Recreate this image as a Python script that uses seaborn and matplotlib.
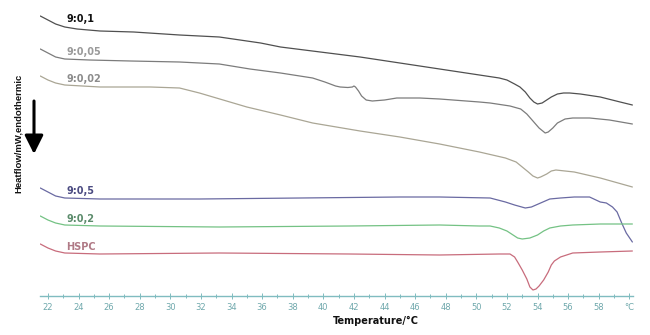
import numpy as np
import pandas as pd
import matplotlib
matplotlib.use("Agg")
import matplotlib.pyplot as plt
import seaborn as sns

# DSC thermograms (heat flow, arbitrary offset units, endothermic down)
t_901 = [21.5, 22.0, 22.5, 23.1, 23.9, 25.4, 27.6, 30.6, 33.2, 35.9, 37.2, 39.8, 42.4, 45.0,
         47.6, 50.2, 51.5, 52.0, 52.5, 52.85, 53.2, 53.5, 53.76, 54.0, 54.3, 54.6, 54.9,
         55.3, 55.7, 56.1, 56.8, 58.1, 59.4, 60.2]
hf_901 = [28.0, 27.6, 27.2, 26.9, 26.7, 26.5, 26.4, 26.1, 25.9, 25.3, 24.9, 24.4, 23.9, 23.3,
          22.7, 22.1, 21.8, 21.6, 21.2, 20.9, 20.4, 19.8, 19.4, 19.2, 19.3, 19.6, 19.9,
          20.2, 20.3, 20.3, 20.2, 19.9, 19.4, 19.1]

t_9005 = [21.5, 22.0, 22.5, 23.1, 24.7, 27.4, 30.6, 33.2, 35.2, 37.2, 39.3, 40.1, 40.8, 41.1,
          41.6, 41.9, 42.0, 42.1, 42.3, 42.5, 42.8, 43.2, 44.0, 44.8, 46.3, 47.6, 50.2, 50.9,
          52.2, 52.9, 53.3, 53.7, 54.1, 54.5, 54.7, 55.0, 55.3, 55.8, 56.3, 57.4, 58.7, 60.2]
hf_9005 = [24.7, 24.3, 23.9, 23.7, 23.6, 23.5, 23.4, 23.2, 22.7, 22.3, 21.8, 21.4, 21.0, 20.9,
           20.85, 20.9, 21.0, 20.9, 20.5, 20.0, 19.6, 19.5, 19.6, 19.8, 19.8, 19.7, 19.4, 19.3,
           19.0, 18.7, 18.2, 17.5, 16.8, 16.3, 16.4, 16.8, 17.3, 17.7, 17.8, 17.8, 17.6, 17.2]

t_9002 = [21.5, 22.0, 22.5, 23.1, 25.4, 28.7, 30.6, 31.9, 35.0, 37.2, 39.3, 42.4, 45.0, 47.6,
          50.2, 51.9, 52.6, 53.0, 53.4, 53.7, 54.0, 54.2, 54.6, 54.9, 55.2, 55.8, 56.4, 58.1,
          60.2]
hf_9002 = [22.0, 21.6, 21.3, 21.1, 20.9, 20.9, 20.8, 20.3, 18.9, 18.1, 17.3, 16.5, 15.9, 15.2,
           14.4, 13.8, 13.4, 12.9, 12.4, 12.0, 11.8, 11.9, 12.2, 12.5, 12.6, 12.5, 12.4, 11.8,
           10.9]

t_905 = [21.5, 22.0, 22.5, 23.1, 25.4, 31.9, 38.5, 45.0, 47.6, 50.9, 51.9, 52.5, 53.2, 53.6,
         54.2, 54.8, 55.5, 56.4, 57.4, 58.1, 58.5, 58.9, 59.2, 59.5, 59.8, 60.2]
hf_905 = [10.8, 10.4, 10.0, 9.8, 9.7, 9.7, 9.8, 9.9, 9.9, 9.8, 9.4, 9.1, 8.8, 8.9,
          9.3, 9.7, 9.8, 9.9, 9.9, 9.4, 9.3, 8.9, 8.4, 7.3, 6.3, 5.4]

t_902 = [21.5, 22.0, 22.5, 23.1, 25.4, 33.2, 41.7, 47.6, 50.2, 50.9, 51.5, 52.0, 52.4, 52.7,
         53.0, 53.5, 54.0, 54.4, 54.8, 55.5, 56.3, 58.1, 60.2]
hf_902 = [8.0, 7.6, 7.3, 7.1, 7.0, 6.9, 7.0, 7.1, 7.0, 7.0, 6.8, 6.5, 6.1, 5.8,
          5.7, 5.8, 6.1, 6.5, 6.8, 7.0, 7.1, 7.2, 7.2]

t_hspc = [21.5, 22.0, 22.5, 23.1, 25.4, 33.2, 41.7, 47.6, 51.5, 51.9, 52.2, 52.5, 52.7, 53.0,
          53.3, 53.5, 53.7, 53.9, 54.1, 54.4, 54.7, 54.9, 55.1, 55.5, 55.9, 56.3, 58.1, 60.2]
hf_hspc = [5.2, 4.8, 4.5, 4.3, 4.2, 4.3, 4.2, 4.1, 4.2, 4.2, 4.2, 3.9, 3.4, 2.6,
           1.7, 0.9, 0.6, 0.7, 1.0, 1.6, 2.4, 3.1, 3.5, 3.9, 4.1, 4.3, 4.4, 4.5]

major_ticks = list(range(22, 60, 2))
minor_ticks = list(range(23, 60, 2))

series = {
    "9:0,1": (t_901, hf_901),
    "9:0,05": (t_9005, hf_9005),
    "9:0,02": (t_9002, hf_9002),
    "9:0,5": (t_905, hf_905),
    "9:0,2": (t_902, hf_902),
    "HSPC": (t_hspc, hf_hspc),
}
df = pd.concat(
    [pd.DataFrame({"T": t, "hf": h, "sample": name}) for name, (t, h) in series.items()],
    ignore_index=True,
)

line_colors = {
    "9:0,1": "#505050",
    "9:0,05": "#7c7c7c",
    "9:0,02": "#aaa695",
    "9:0,5": "#6a6aa2",
    "9:0,2": "#74c284",
    "HSPC": "#c86c7c",
}
label_colors = {
    "9:0,1": "#111111",
    "9:0,05": "#9a9a9a",
    "9:0,02": "#8c8c8c",
    "9:0,5": "#4c4c82",
    "9:0,2": "#5c8c6c",
    "HSPC": "#b07a86",
}

sns.set_style("white")
plt.rcParams["font.family"] = ["DejaVu Sans"]

W, H = 650, 335
fig = plt.figure(figsize=(W / 100, H / 100), dpi=100)
ax = fig.add_axes([40 / W, (H - 296) / H, 593 / W, 286 / H])

sns.lineplot(data=df, x="T", y="hf", hue="sample", palette=line_colors,
             sort=False, estimator=None, lw=0.9, legend=False, ax=ax)

ax.set_xlim(21.48, 60.24)
ax.set_ylim(0, 28.6)

# sample labels beside the start of each trace
for name, (t, h) in series.items():
    ax.text(23.2, h[0] - 0.3, name, color=label_colors[name], fontsize=7,
            fontweight="bold", va="center", ha="left")

# teal temperature axis
axis_col = "#80bcc0"
for side in ["top", "right", "left"]:
    ax.spines[side].set_visible(False)
ax.spines["bottom"].set_color(axis_col)
ax.spines["bottom"].set_linewidth(1.0)
ax.set_yticks([])
ax.set_xticks(major_ticks + [60])
ax.set_xticklabels([str(v) for v in major_ticks] + ["°C"])
ax.set_xticks(minor_ticks, minor=True)
ax.tick_params(axis="x", which="major", bottom=True, direction="inout", length=5,
               width=0.7, color=axis_col, labelcolor="#6fa8ac", labelsize=6, pad=2.5)
ax.tick_params(axis="x", which="minor", bottom=True, direction="inout", length=3,
               width=0.7, color=axis_col)
ax.set_xlabel("")
ax.set_ylabel("")

fig.text(376 / W, 1 - 321 / H, "Temperature/°C", fontsize=7, fontweight="bold",
         ha="center", va="center", color="#111111")
fig.text(18 / W, 1 - 133 / H, "Heatflow/mW,endothermic", fontsize=6.8,
         fontweight="bold", family=["Liberation Sans", "DejaVu Sans"],
         rotation=90, ha="center", va="center", color="#111111")

ax.annotate("", xy=(34 / W, 1 - 154 / H), xytext=(34 / W, 1 - 101 / H),
            xycoords="figure fraction", textcoords="figure fraction",
            arrowprops=dict(arrowstyle="-|>,head_length=0.8,head_width=0.4",
                            lw=2.2, color="black", mutation_scale=14,
                            shrinkA=0, shrinkB=0),
            annotation_clip=False)

fig.savefig("out.png", dpi=100)
